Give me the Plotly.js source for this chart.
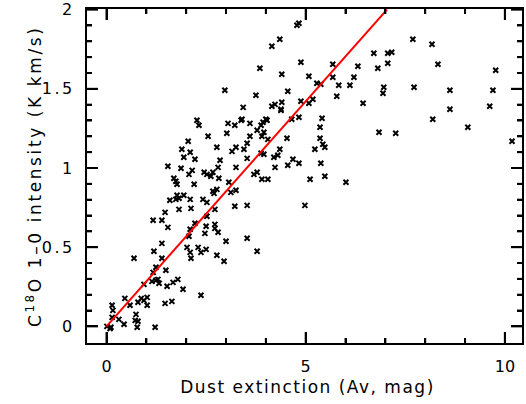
<!DOCTYPE html>
<html>
<head>
<meta charset="utf-8">
<script src="https://cdn.plot.ly/plotly-3.0.1.min.js"></script>
<style>
  html, body { margin: 0; padding: 0; background: #fff; }
  #chart { width: 526px; height: 404px; }
  .ytick text { letter-spacing: 2.5px; }
  g.annotation[data-index="0"] text { letter-spacing: 1.5px; }
  g.annotation[data-index="1"] text { letter-spacing: 2.6px; }
</style>
</head>
<body>
<div id="chart"></div>
<script>
// Dust extinction Av (mag)
const avExt = [
  4.83,4.78,4.15,4.35,4.88,3.85,4.40,5.68,6.31,2.97,
  3.75,4.55,5.08,5.28,5.38,5.68,5.83,6.11,6.21,5.78,
  6.44,3.43,4.15,4.23,4.40,4.38,4.88,5.08,5.18,4.83,
  4.65,5.41,3.40,4.00,2.27,
  7.69,8.17,6.71,7.06,7.16,7.06,6.81,8.32,9.77,6.96,
  6.94,7.72,8.62,9.70,8.62,9.62,8.19,9.07,6.84,7.26,10.18,
  2.32,3.05,3.02,2.55,2.05,1.89,2.10,2.77,1.94,2.22,
  2.85,1.54,1.87,2.15,2.07,2.45,2.52,2.67,2.62,2.80,
  2.82,3.07,1.69,1.74,1.77,2.20,2.67,2.70,2.77,1.77,
  1.82,1.59,1.74,1.94,2.10,2.42,2.52,1.82,2.12,2.72,
  1.47,2.52,1.17,1.39,1.54,2.22,2.10,2.50,2.72,2.72,
  2.47,2.80,2.07,3.00,1.39,1.19,2.02,2.10,2.30,2.37,
  2.50,2.12,2.77,2.95,0.69,1.39,1.24,1.17,1.49,1.24,
  1.29,1.32,1.14,0.94,1.52,1.67,1.79,1.92,2.37,0.46,
  0.79,0.87,0.94,1.02,1.02,0.59,1.47,1.64,0.14,0.16,
  0.14,0.31,0.44,0.74,0.72,0.79,0.77,0.01,0.11,0.09,1.22,
  3.22,3.38,3.60,3.78,3.88,3.93,4.03,4.38,3.95,3.90,
  4.05,3.60,4.53,3.53,3.25,3.15,3.45,4.35,3.88,3.95,
  4.20,4.30,3.53,4.68,4.55,4.83,4.23,3.25,3.78,3.70,
  3.90,4.05,3.12,3.25,3.22,3.53,4.98,5.36,5.36,5.43,
  5.48,5.23,5.38,5.48,5.11,6.01,3.53,3.78
];
// C18O 1-0 integrated intensity (K km/s)
const c18oInt = [
  1.914,1.901,1.769,1.813,1.668,1.630,1.592,1.655,1.642,1.491,
  1.459,1.485,1.579,1.535,1.529,1.573,1.522,1.522,1.573,1.453,
  1.409,1.383,1.390,1.402,1.415,1.371,1.421,1.409,1.434,1.320,
  1.308,1.314,1.308,1.308,1.301,
  1.813,1.781,1.725,1.725,1.731,1.661,1.630,1.655,1.617,1.510,
  1.472,1.510,1.491,1.491,1.371,1.390,1.308,1.257,1.226,1.219,1.169,
  1.270,1.282,1.219,1.200,1.169,1.118,1.099,1.131,1.068,1.055,
  1.049,1.011,0.998,0.985,0.960,0.973,0.960,0.973,0.948,1.004,
  0.935,0.910,0.935,0.916,0.897,0.897,0.853,0.840,0.865,0.828,
  0.809,0.796,0.802,0.828,0.802,0.802,0.783,0.739,0.745,0.739,
  0.720,0.695,0.670,0.670,0.625,0.651,0.613,0.632,0.644,0.619,
  0.587,0.594,0.569,0.537,0.524,0.474,0.499,0.467,0.499,0.467,
  0.486,0.430,0.449,0.411,0.430,0.430,0.373,0.341,0.354,0.291,
  0.297,0.272,0.284,0.265,0.253,0.278,0.297,0.234,0.196,0.177,
  0.152,0.177,0.164,0.183,0.133,0.133,0.145,0.158,0.133,0.101,
  0.057,0.044,0.013,0.076,0.038,0.032,-0.006,0.000,-0.006,-0.013,-0.006,
  1.270,1.301,1.282,1.238,1.270,1.289,1.301,1.364,1.226,1.200,
  1.181,1.200,1.188,1.156,1.131,1.105,1.118,1.118,1.093,1.087,
  1.068,1.080,1.061,1.055,1.017,1.030,1.004,1.004,0.973,0.960,
  0.929,0.929,0.846,0.859,0.758,0.764,0.764,1.257,1.188,1.150,
  1.131,1.118,1.030,0.948,0.929,0.910,0.556,0.474
];
// Linear fit through origin
const fitAv = [0, 7.04];
const fitInt = [0, 2.0];

// Tick values and labels
const xTickVals = [0, 5, 10];
const xTickText = ['0', '5', '10'];
const xMinorVals = [1, 2, 3, 4, 6, 7, 8, 9];
const yTickVals = [0, 0.5, 1, 1.5, 2];
const yTickText = ['0', '0.5', '1', '1.5', '2'];
const yMinorVals = [0.1, 0.2, 0.3, 0.4, 0.6, 0.7, 0.8, 0.9, 1.1, 1.2, 1.3, 1.4, 1.6, 1.7, 1.8, 1.9];

const xTitle = 'Dust extinction (Av, mag)';
const yTitle = 'C<sup>18</sup>O 1\u20130 intensity (K km/s)';

const fontFam = 'DejaVu Sans, Liberation Sans, Arial, sans-serif';
const MAJOR_LEN = 11, MINOR_LEN = 5;

const W = 526, H = 404;
const M = { l: 87, r: 4, t: 9, b: 61 };
const xRange = [-0.49, 10.43];
const yRange = [-0.105, 2.004];

// pixel -> data conversion for tick lengths (ticks are axis decoration, derived from the tick arrays)
const pxPerX = (W - M.l - M.r) / (xRange[1] - xRange[0]);
const pxPerY = (H - M.t - M.b) / (yRange[1] - yRange[0]);
const tickX = [], tickY = [];
function xTicks(vals, len) {
  const d = len / pxPerY;
  vals.forEach(v => {
    tickX.push(v, v, null, v, v, null);
    tickY.push(yRange[0], yRange[0] + d, null, yRange[1], yRange[1] - d, null);
  });
}
function yTicks(vals, len) {
  const d = len / pxPerX;
  vals.forEach(v => {
    tickX.push(xRange[0], xRange[0] + d, null, xRange[1], xRange[1] - d, null);
    tickY.push(v, v, null, v, v, null);
  });
}
xTicks(xTickVals, MAJOR_LEN);
xTicks(xMinorVals, MINOR_LEN);
yTicks(yTickVals, MAJOR_LEN);
yTicks(yMinorVals, MINOR_LEN);

const traces = [
  {
    x: tickX, y: tickY, type: 'scatter', mode: 'lines', connectgaps: false,
    line: { color: '#000', width: 2 }, hoverinfo: 'skip'
  },
  {
    x: avExt, y: c18oInt, type: 'scatter', mode: 'markers',
    marker: { symbol: 'x-thin', size: 5, color: '#000', line: { color: '#000', width: 2 } },
    hoverinfo: 'skip'
  },
  {
    x: fitAv, y: fitInt, type: 'scatter', mode: 'lines',
    line: { color: '#ff0000', width: 2 },
    hoverinfo: 'skip'
  }
];

const axisCommon = {
  showgrid: false, zeroline: false,
  showline: true, linecolor: '#000', linewidth: 2,
  mirror: 'allticks', layer: 'above traces',
  ticks: 'inside', ticklen: MAJOR_LEN, tickwidth: 2, tickcolor: '#000',
  tickfont: { family: fontFam, size: 16, color: '#000' },
  tickmode: 'array'
};

const layout = {
  width: W, height: H,
  margin: M,
  showlegend: false,
  xaxis: Object.assign({}, axisCommon, {
    range: xRange,
    tickvals: xTickVals, ticktext: xTickText,
    ticklabelstandoff: 8,
    minor: { tickmode: 'array', tickvals: xMinorVals, ticks: 'inside', ticklen: MINOR_LEN, tickwidth: 2, tickcolor: '#000' }
  }),
  yaxis: Object.assign({}, axisCommon, {
    range: yRange,
    tickvals: yTickVals, ticktext: yTickText,
    ticklabelstandoff: 7,
    minor: { tickmode: 'array', tickvals: yMinorVals, ticks: 'inside', ticklen: MINOR_LEN, tickwidth: 2, tickcolor: '#000' }
  }),
  annotations: [
    { text: xTitle, xref: 'paper', yref: 'paper', x: 0.507, y: -0.133,
      xanchor: 'center', yanchor: 'middle', showarrow: false,
      font: { family: fontFam, size: 17, color: '#000' } },
    { text: yTitle, xref: 'paper', yref: 'paper', x: -0.122, y: 0.5,
      xanchor: 'center', yanchor: 'middle', showarrow: false, textangle: -90,
      font: { family: fontFam, size: 17, color: '#000' } }
  ]
};

Plotly.newPlot('chart', traces, layout, { staticPlot: true, displayModeBar: false });
</script>
</body>
</html>
